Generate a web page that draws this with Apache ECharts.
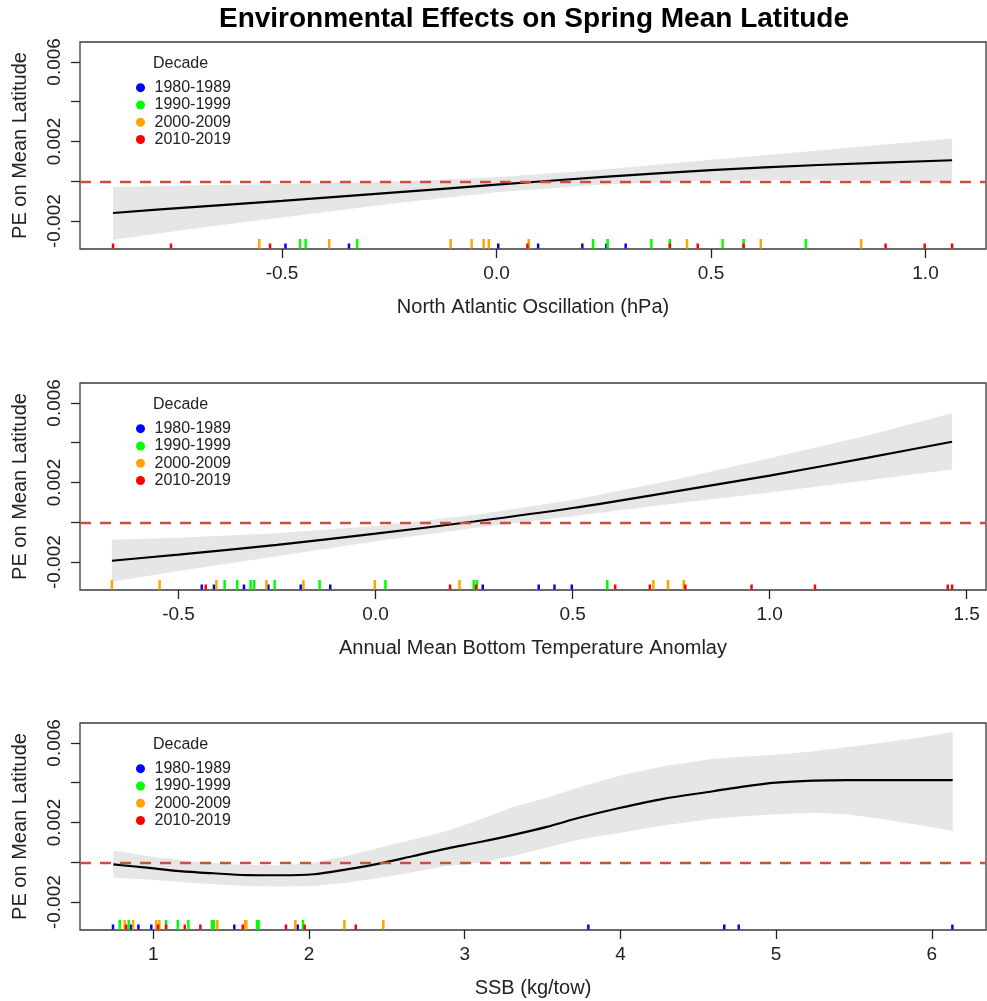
<!DOCTYPE html>
<html>
<head>
<meta charset="utf-8">
<script src="https://cdn.jsdelivr.net/npm/echarts@6/dist/echarts.min.js"></script>
<style>
html,body{margin:0;padding:0;background:#fff;}
#c{width:987px;height:1001px;}
</style>
</head>
<body>
<div id="c"></div>
<script>
// ---------------- DATA ----------------
const decades = ['1980-1989', '1990-1999', '2000-2009', '2010-2019'];
const decadeColors = ['#0000FF', '#00FF00', '#FFA500', '#FF0000'];

// Panel 1: North Atlantic Oscillation
const naoX     = [-0.894, -0.7, -0.5, -0.25, 0.0, 0.25, 0.5, 0.75, 1.062];
const naoFit   = [-0.00159, -0.00128, -0.00098, -0.00058, -0.00017, 0.00022, 0.00056, 0.00082, 0.00106];
const naoUpper = [-0.00029, -0.00020, -0.00014, -0.00002, 0.00021, 0.00060, 0.00108, 0.00155, 0.00215];
const naoLower = [-0.00293, -0.00236, -0.00182, -0.00114, -0.00055, -0.00016, 0.00004, 0.00008, -0.00007];
const nao1980 = [-0.492, -0.344, 0.004, 0.097, 0.200, 0.256, 0.301];
const nao1990 = [-0.458, -0.445, -0.325, 0.225, 0.259, 0.361, 0.404, 0.527, 0.576, 0.721];
const nao2000 = [-0.553, -0.390, -0.107, -0.058, -0.030, -0.018, 0.075, 0.444, 0.616, 0.850];
const nao2010 = [-0.894, -0.759, -0.528, 0.072, 0.404, 0.469, 0.576, 0.907, 0.998, 1.062];

// Panel 2: Annual Mean Bottom Temperature Anomaly
const btX     = [-0.669, -0.5, -0.25, 0.0, 0.25, 0.5, 0.75, 1.0, 1.25, 1.463];
const btFit   = [-0.00193, -0.00162, -0.00113, -0.00057, 0.00004, 0.00072, 0.00152, 0.00235, 0.00325, 0.00405];
const btUpper = [-0.00087, -0.00078, -0.00055, -0.00019, 0.00037, 0.00112, 0.00210, 0.00322, 0.00437, 0.00548];
const btLower = [-0.00298, -0.00245, -0.00170, -0.00095, -0.00029, 0.00030, 0.00092, 0.00150, 0.00212, 0.00265];
const bt1980 = [-0.441, -0.410, -0.334, -0.272, -0.190, -0.115, 0.272, 0.414, 0.454, 0.498];
const bt1990 = [-0.383, -0.351, -0.317, -0.308, -0.256, -0.142, 0.025, 0.249, 0.257, 0.588];
const bt2000 = [-0.669, -0.548, -0.404, -0.277, -0.183, -0.002, 0.213, 0.705, 0.742, 0.782];
const bt2010 = [-0.431, 0.189, 0.255, 0.608, 0.696, 0.786, 0.954, 1.115, 1.452, 1.463];

// Panel 3: SSB
const ssbX     = [0.743, 0.958, 1.171, 1.385, 1.600, 1.814, 2.028, 2.242, 2.456, 2.670, 2.884, 3.098, 3.312,
                  3.527, 3.741, 4.0, 4.275, 4.596, 4.8, 5.0, 5.239, 5.45, 5.667, 5.9, 6.134];
const ssbFit   = [-0.00010, -0.00027, -0.00044, -0.00055, -0.00064, -0.00065, -0.00060, -0.00035, -0.00005,
                  0.00032, 0.00069, 0.00102, 0.00138, 0.00178, 0.00225, 0.00274, 0.00319, 0.00357, 0.00382,
                  0.00400, 0.00410, 0.00413, 0.00413, 0.00413, 0.00413];
const ssbUpper = [0.00060, 0.00032, 0.00012, -0.00005, -0.00013, -0.00015, -0.00002, 0.00032, 0.00074,
                  0.00115, 0.00157, 0.00215, 0.00279, 0.00324, 0.00379, 0.00436, 0.00483, 0.00520, 0.00532,
                  0.00541, 0.00558, 0.00578, 0.00600, 0.00625, 0.00655];
const ssbLower = [-0.00077, -0.00085, -0.00099, -0.00110, -0.00119, -0.00122, -0.00119, -0.00102, -0.00077,
                  -0.00049, -0.00018, -0.00002, 0.00032, 0.00074, 0.00115, 0.00149, 0.00185, 0.00219, 0.00232,
                  0.00241, 0.00249, 0.00241, 0.00219, 0.00190, 0.00157];
const ssb1980 = [0.741, 0.855, 0.904, 0.987, 1.520, 1.927, 3.794, 4.667, 4.760, 6.132];
const ssb1990 = [0.784, 0.842, 1.082, 1.157, 1.225, 1.377, 1.388, 1.666, 1.676, 1.961];
const ssb2000 = [0.816, 0.870, 1.019, 1.039, 1.411, 1.589, 1.597, 1.912, 2.227, 2.477];
const ssb2010 = [0.825, 1.030, 1.082, 1.202, 1.302, 1.574, 1.852, 1.972, 2.300];

const yTicks = [-0.002, 0, 0.002, 0.004, 0.006];
const yLabels = [-0.002, 0.002, 0.006];
const naoTicks = [-0.5, 0, 0.5, 1.0];
const btTicks = [-0.5, 0, 0.5, 1.0, 1.5];
const ssbTicks = [1, 2, 3, 4, 5, 6];

const titleText = 'Environmental Effects on Spring Mean Latitude';
const yName = 'PE on Mean Latitude';

// ---------------- LAYOUT / STYLE ----------------
const FONT = 'Liberation Sans, Arial, sans-serif';
const Y_MIN = -0.0034, Y_MAX = 0.0070;
const panels = [
  { x: naoX, fit: naoFit, up: naoUpper, lo: naoLower, rugs: [nao1980, nao1990, nao2000, nao2010],
    ticks: naoTicks, fmt: v => v.toFixed(1), min: -0.971, max: 1.141,
    name: 'North Atlantic Oscillation (hPa)', top: 42 },
  { x: btX, fit: btFit, up: btUpper, lo: btLower, rugs: [bt1980, bt1990, bt2000, bt2010],
    ticks: btTicks, fmt: v => v.toFixed(1), min: -0.750, max: 1.549,
    name: 'Annual Mean Bottom Temperature Anomlay', top: 383 },
  { x: ssbX, fit: ssbFit, up: ssbUpper, lo: ssbLower, rugs: [ssb1980, ssb1990, ssb2000, ssb2010],
    ticks: ssbTicks, fmt: v => String(Math.round(v)), min: 0.529, max: 6.348,
    name: 'SSB (kg/tow)', top: 723 }
];
const GRID_H = 207;
const rugHeights = [5.5, 10, 10, 5.5];

const grids = [], xAxes = [], yAxes = [], series = [], legends = [], graphics = [];

graphics.push({
  type: 'text', x: 534, y: 19,
  style: { text: titleText, font: 'bold 28px ' + FONT, fill: '#000', align: 'center', verticalAlign: 'middle' }
});

panels.forEach((p, i) => {
  grids.push({ left: 80, right: 1, top: p.top, height: GRID_H, show: true,
    borderColor: '#3a3a3a', borderWidth: 1.3, backgroundColor: 'transparent' });
  xAxes.push({
    type: 'value', gridIndex: i, min: p.min, max: p.max,
    axisLine: { show: false, onZero: false }, splitLine: { show: false },
    axisTick: { show: true, length: 9, lineStyle: { color: '#222', width: 1.3 }, customValues: p.ticks },
    axisLabel: { customValues: p.ticks, formatter: p.fmt, fontSize: 19, fontFamily: FONT, color: '#222', margin: 15 },
    name: p.name, nameLocation: 'middle', nameGap: 48,
    nameTextStyle: { fontSize: 20, fontFamily: FONT, color: '#222' }
  });
  yAxes.push({
    type: 'value', gridIndex: i, min: Y_MIN, max: Y_MAX,
    axisLine: { show: false, onZero: false }, splitLine: { show: false },
    axisTick: { show: true, length: 9, lineStyle: { color: '#222', width: 1.3 }, customValues: yTicks },
    axisLabel: { customValues: yLabels, formatter: v => v.toFixed(3), rotate: 90, fontSize: 19, fontFamily: FONT,
      color: '#222', margin: 16 },
    name: yName, nameLocation: 'middle', nameGap: 50, nameRotate: 90,
    nameTextStyle: { fontSize: 20, fontFamily: FONT, color: '#222' }
  });

  // confidence band
  const bandData = p.x.map((v, k) => [v, p.lo[k], p.up[k]]);
  series.push({
    type: 'custom', xAxisIndex: i, yAxisIndex: i, silent: true, z: 1, clip: true,
    data: bandData, encode: { x: 0, y: [1, 2] },
    renderItem: (params, api) => {
      if (params.dataIndex !== 0) return null;
      const pts = [];
      for (let k = 0; k < p.x.length; k++) pts.push(api.coord([p.x[k], p.up[k]]));
      for (let k = p.x.length - 1; k >= 0; k--) pts.push(api.coord([p.x[k], p.lo[k]]));
      return { type: 'polygon', shape: { points: pts }, style: { fill: '#E6E6E6' } };
    }
  });
  // fitted line
  series.push({
    type: 'line', xAxisIndex: i, yAxisIndex: i, silent: true, z: 3,
    data: p.x.map((v, k) => [v, p.fit[k]]), showSymbol: false, smooth: 0.3,
    lineStyle: { color: '#000', width: 2.2 }
  });
  // zero dashed line
  series.push({
    type: 'line', xAxisIndex: i, yAxisIndex: i, silent: true, z: 4, data: [],
    markLine: { silent: true, symbol: 'none', label: { show: false },
      lineStyle: { type: [11, 9], color: '#CD4F39', width: 2.3 }, data: [{ yAxis: 0 }] }
  });
  // rugs
  p.rugs.forEach((arr, d) => {
    const h = rugHeights[d];
    series.push({
      type: 'custom', name: decades[d], xAxisIndex: i, yAxisIndex: i, silent: true, z: 5 + d,
      itemStyle: { color: decadeColors[d] },
      data: arr.map(v => [v, 0]), encode: { x: 0, y: 1 },
      renderItem: (params, api) => {
        const c = api.coord([api.value(0), Y_MIN]);
        return { type: 'line', shape: { x1: c[0], y1: c[1] - 0.5, x2: c[0], y2: c[1] - h },
          style: { stroke: decadeColors[d], lineWidth: 2.5 } };
      }
    });
  });

  legends.push({
    data: decades, orient: 'vertical', left: 131, top: p.top + 32,
    icon: 'circle', itemWidth: 18, itemHeight: 9, itemGap: 0, selectedMode: false,
    textStyle: { fontSize: 16, fontFamily: FONT, color: '#222', lineHeight: 17.3 }
  });
  graphics.push({
    type: 'text', left: 153, top: p.top + 14,
    style: { text: 'Decade', font: '16px ' + FONT, fill: '#222' }
  });
});

const chart = echarts.init(document.getElementById('c'), null, { renderer: 'canvas' });
chart.setOption({
  animation: false,
  backgroundColor: '#fff',
  grid: grids, xAxis: xAxes, yAxis: yAxes, series: series, legend: legends, graphic: graphics
});
</script>
</body>
</html>
